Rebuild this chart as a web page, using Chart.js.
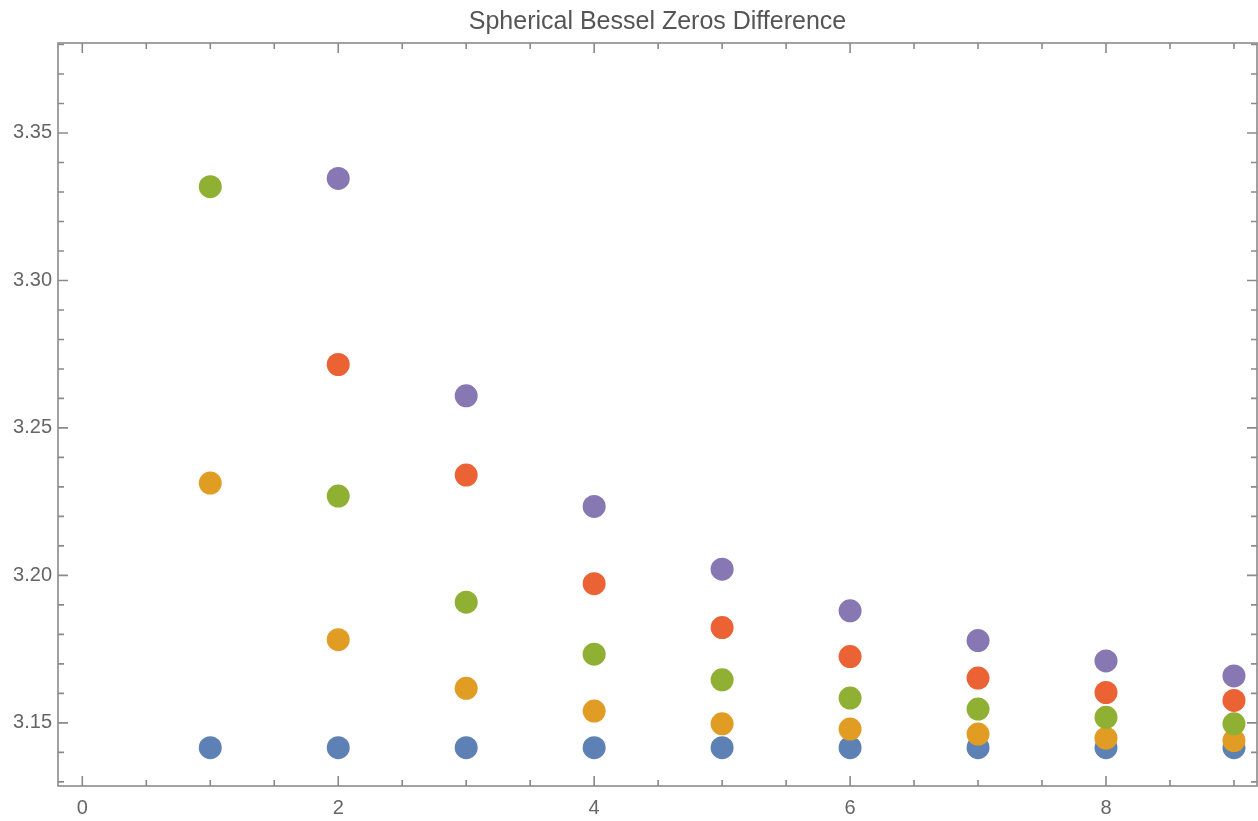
<!DOCTYPE html>
<html>
<head>
<meta charset="utf-8">
<script src="https://cdn.jsdelivr.net/npm/chart.js@4"></script>
<style>
  html, body { margin: 0; padding: 0; background: #fff; }
  #wrap { width: 1258px; height: 821px; }
</style>
</head>
<body>
<div id="wrap"><canvas id="chart" width="1258" height="821"></canvas></div>
<script>
// values
const xValues = [1, 2, 3, 4, 5, 6, 7, 8, 9];
const blueValues   = [3.1416, 3.1416, 3.1416, 3.1416, 3.1416, 3.1416, 3.1416, 3.1416, 3.1416];
const orangeValues = [3.2313, 3.1782, 3.1617, 3.1540, 3.1497, 3.1479, 3.1462, 3.1448, 3.1440];
const greenValues  = [3.3318, 3.2269, 3.1909, 3.1733, 3.1646, 3.1584, 3.1547, 3.1519, 3.1497];
const redValues    = [null, 3.2715, 3.2340, 3.1972, 3.1823, 3.1725, 3.1652, 3.1603, 3.1576];
const purpleValues = [null, 3.3346, 3.2609, 3.2234, 3.2021, 3.1880, 3.1779, 3.1710, 3.1659];

const xTickLabels = [0, 2, 4, 6, 8];
const yTickLabels = [3.15, 3.20, 3.25, 3.30, 3.35];

const titleText = 'Spherical Bessel Zeros Difference';
const fontFamily = 'Liberation Sans, Arial, sans-serif';
const frameColor = '#8a8a8a';
const textColor = '#666666';

function toPoints(vals) {
    const pts = [];
    vals.forEach((v, i) => { if (v !== null) pts.push({ x: xValues[i], y: v }); });
    return pts;
}

function makeSet(vals, color, order) {
    return {
        data: toPoints(vals),
        backgroundColor: color,
        borderColor: color,
        borderWidth: 0,
        pointRadius: 11.5,
        pointHoverRadius: 11.5,
        showLine: false,
        order: order
    };
}

// Mathematica-like frame with inward ticks on all four sides, title over the plot
const framePlugin = {
    id: 'frame',
    beforeDatasetsDraw(chart) {
        const { ctx, chartArea: a, scales } = chart;
        const xs = scales.x, ys = scales.y;
        ctx.save();
        ctx.strokeStyle = frameColor;
        ctx.lineWidth = 1.6;

        const xTick = (v, len) => {
            const px = xs.getPixelForValue(v);
            ctx.beginPath();
            ctx.moveTo(px, a.bottom); ctx.lineTo(px, a.bottom - len);
            ctx.moveTo(px, a.top); ctx.lineTo(px, a.top + len);
            ctx.stroke();
        };
        const yTick = (v, len) => {
            const py = ys.getPixelForValue(v);
            ctx.beginPath();
            ctx.moveTo(a.left, py); ctx.lineTo(a.left + len, py);
            ctx.moveTo(a.right, py); ctx.lineTo(a.right - len, py);
            ctx.stroke();
        };

        for (let k = Math.ceil(xs.min * 2); k <= Math.floor(xs.max * 2); k++) {
            const v = k / 2;
            xTick(v, xTickLabels.includes(v) ? 10 : 6);
        }
        for (let k = Math.ceil(ys.min * 100); k <= Math.floor(ys.max * 100); k++) {
            const v = k / 100;
            const major = yTickLabels.some(t => Math.abs(t - v) < 1e-9);
            yTick(v, major ? 10 : 6);
        }

        ctx.strokeRect(a.left, a.top, a.right - a.left, a.bottom - a.top);

        ctx.fillStyle = '#555555';
        ctx.font = '25px ' + fontFamily;
        ctx.textAlign = 'center';
        ctx.textBaseline = 'middle';
        ctx.fillText(titleText, (a.left + a.right) / 2, 22);
        ctx.restore();
    }
};

const ctx = document.getElementById('chart').getContext('2d');
new Chart(ctx, {
    type: 'scatter',
    data: {
        datasets: [
            makeSet(blueValues, '#5E81B5', 5),
            makeSet(orangeValues, '#E19C24', 4),
            makeSet(greenValues, '#8FB032', 3),
            makeSet(redValues, '#EB6235', 2),
            makeSet(purpleValues, '#8778B3', 1)
        ]
    },
    options: {
        responsive: false,
        animation: false,
        events: [],
        layout: { autoPadding: false, padding: { left: 0, right: 1, top: 43, bottom: 0 } },
        plugins: {
            legend: { display: false },
            tooltip: { enabled: false },
            title: { display: false }
        },
        scales: {
            x: {
                type: 'linear',
                min: -0.19,
                max: 9.18,
                grid: { display: false, drawTicks: false },
                border: { display: false },
                afterBuildTicks: s => { s.ticks = xTickLabels.map(v => ({ value: v })); },
                afterFit: s => { s.height = 35; s.paddingLeft = 0; s.paddingRight = 0; },
                ticks: {
                    color: textColor,
                    padding: 10,
                    maxRotation: 0,
                    font: { family: fontFamily, size: 20 },
                    callback: v => String(v)
                }
            },
            y: {
                type: 'linear',
                min: 3.1286,
                max: 3.3805,
                grid: { display: false, drawTicks: false },
                border: { display: false },
                afterBuildTicks: s => { s.ticks = yTickLabels.map(v => ({ value: v })); },
                afterFit: s => { s.width = 58; s.paddingTop = 0; s.paddingBottom = 0; },
                ticks: {
                    color: textColor,
                    padding: 6,
                    font: { family: fontFamily, size: 20 },
                    callback: v => Number(v).toFixed(2)
                }
            }
        }
    },
    plugins: [framePlugin]
});
</script>
</body>
</html>
